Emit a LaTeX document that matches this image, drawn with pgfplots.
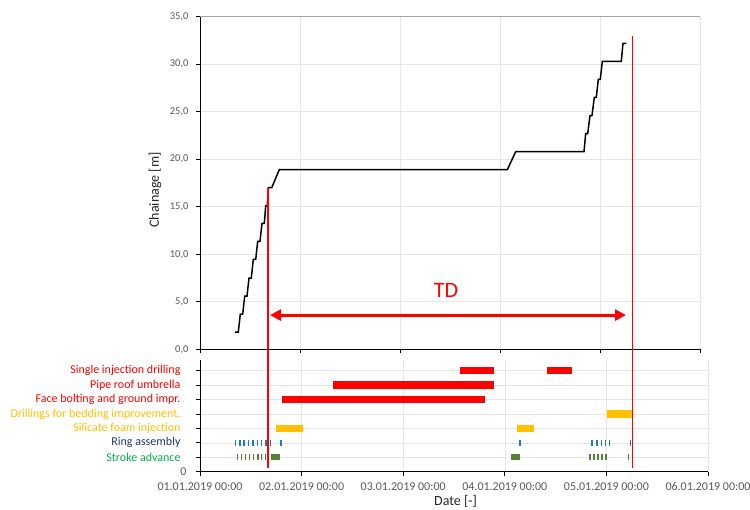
\documentclass[border=0pt]{standalone}
\usepackage{fontspec}
\setmainfont{Carlito}
\usepackage{pgfplots}
\pgfplotsset{compat=1.18}
\usetikzlibrary{arrows.meta}
\definecolor{tickgray}{HTML}{595959}
\definecolor{xlred}{HTML}{FF0000}
\definecolor{xlyellow}{HTML}{FFC000}
\definecolor{xlgreen}{HTML}{548235}
\definecolor{lblgreen}{HTML}{00B050}
\definecolor{lblnavy}{HTML}{203864}
\definecolor{ringblue}{HTML}{1F78C8}
\definecolor{gridc}{HTML}{E6E6E6}
\newcommand{\pad}{\rule{6pt}{0pt}}
\begin{document}
\begin{tikzpicture}[x=1pt,y=1pt]
\path[use as bounding box] (0,0) rectangle (750,510);
% ---------- lower (activities) axis ----------
\begin{axis}[
  at={(200pt,38.3pt)}, anchor=south west, scale only axis,
  width=508pt, height=111.7pt,
  xmin=0, xmax=5, ymin=0, ymax=7.74,
  axis x line*=bottom, axis y line*=left,
  axis line style={-, black, line width=0.8pt},
  tick align=outside, major tick length=4pt,
  tick style={black, line width=0.8pt},
  grid=major, grid style={gridc, line width=0.6pt},
  xtick={0,1,2,3,4,5},
  xticklabels={01.01.2019 00:00,02.01.2019 00:00,03.01.2019 00:00,04.01.2019 00:00,05.01.2019 00:00,06.01.2019 00:00},
  xticklabel style={font=\fontsize{12}{14}\selectfont, text=tickgray, yshift=-3pt},
  ytick={0,1,2,3,4,5,6,7},
  yticklabels={0,
    \textcolor{lblgreen}{Stroke advance}\pad,
    \textcolor{lblnavy}{Ring assembly}\pad,
    \textcolor{xlyellow}{Silicate foam injection}\pad,
    \textcolor{xlyellow}{Drillings for bedding improvement.}\pad,
    \textcolor{xlred}{Face bolting and ground impr.}\pad,
    \textcolor{xlred}{Pipe roof umbrella}\pad,
    \textcolor{xlred}{Single injection drilling}\pad},
  yticklabel style={font=\fontsize{12}{14}\selectfont, text=tickgray, xshift=-6pt},
  xlabel={Date [-]},
  every axis x label/.style={at={(axis description cs:0.503,-0.262)}, anchor=center},
  xlabel style={font=\fontsize{14}{16}\selectfont, text=black!85},
]
% Single injection drilling
\addplot[xlred, line width=7.3pt] coordinates {(2.562,7) (2.890,7)};
\addplot[xlred, line width=7.3pt] coordinates {(3.415,7) (3.665,7)};
% Pipe roof umbrella
\addplot[xlred, line width=7.3pt] coordinates {(1.312,6) (2.890,6)};
% Face bolting
\addplot[xlred, line width=7.3pt] coordinates {(0.810,5) (2.810,5)};
% Drillings for bedding
\addplot[xlyellow, line width=7.3pt] coordinates {(4.003,4) (4.249,4)};
% Silicate foam injection
\addplot[xlyellow, line width=7.3pt] coordinates {(0.745,3) (1.011,3)};
\addplot[xlyellow, line width=7.3pt] coordinates {(3.123,3) (3.287,3)};
% Ring assembly
\addplot[only marks, mark=|, mark size=3pt, color=ringblue, mark options={line width=1.6pt}] coordinates {
 (0.351,2) (0.394,2) (0.436,2) (0.479,2) (0.522,2) (0.564,2) (0.607,2) (0.649,2) (0.692,2)
 (0.797,2) (3.150,2)
 (3.861,2) (3.907,2) (3.950,2) (3.993,2) (4.032,2) (4.239,2)};
% Stroke advance
\addplot[only marks, mark=|, mark size=3pt, color=xlgreen, mark options={line width=1.6pt}] coordinates {
 (0.371,1) (0.410,1) (0.449,1) (0.489,1) (0.528,1) (0.568,1) (0.607,1) (0.646,1)
 (3.839,1) (3.878,1) (3.917,1) (3.957,1) (3.996,1) (4.216,1)};
\addplot[xlgreen, line width=6pt] coordinates {(0.699,1) (0.787,1)};
\addplot[xlgreen, line width=6pt] coordinates {(3.058,1) (3.150,1)};
\end{axis}
% ---------- upper (chainage) axis ----------
\begin{axis}[
  at={(200pt,160.7pt)}, anchor=south west, scale only axis,
  width=500pt, height=332.6pt,
  xmin=0, xmax=5, ymin=0, ymax=35,
  clip=false,
  axis x line*=bottom, axis y line*=left,
  axis line style={-, black, line width=0.8pt},
  tick align=outside, major tick length=4pt,
  tick style={black, line width=0.8pt},
  grid=major, grid style={gridc, line width=0.6pt},
  xtick={0,1,2,3,4,5}, xticklabels={},
  ytick={0,5,10,15,20,25,30,35},
  /pgf/number format/assume math mode=true,
  yticklabel={\pgfmathprintnumber[fixed,fixed zerofill,precision=1,use comma]{\tick}},
  yticklabel style={font=\fontsize{10.5}{12}\selectfont, text=tickgray, xshift=-4pt},
  ylabel={Chainage [m]},
  every axis y label/.style={at={(axis description cs:-0.09,0.479)}, rotate=90, anchor=center},
  ylabel style={font=\fontsize{14}{16}\selectfont, text=black!85},
]
\draw[gray!70, line width=0.8pt] (rel axis cs:0,1) -- (rel axis cs:1,1);
\addplot[black, line width=1.5pt] coordinates {
 (0.350,1.80) (0.383,1.80) (0.403,3.70) (0.427,3.70) (0.447,5.60) (0.470,5.60)
 (0.490,7.50) (0.513,7.50) (0.533,9.45) (0.557,9.45) (0.577,11.35) (0.600,11.35)
 (0.620,13.25) (0.643,13.25) (0.657,15.10) (0.673,15.10) (0.683,17.00) (0.717,17.00)
 (0.793,18.90) (3.073,18.90) (3.157,20.80) (3.840,20.80) (3.857,22.70) (3.877,22.70)
 (3.900,24.60) (3.920,24.60) (3.943,26.50) (3.963,26.50) (3.983,28.40) (4.003,28.40)
 (4.023,30.30) (4.213,30.30) (4.230,32.20) (4.263,32.20)};
% TD markers
\draw[xlred, line width=2pt] (axis cs:0.683,17.0) -- (axis cs:0.683,-12.47);
\draw[xlred, line width=1.3pt] (axis cs:4.327,33.0) -- (axis cs:4.327,-12.47);
\draw[xlred, line width=3pt, {Triangle[length=11pt,width=11pt]}-{Triangle[length=11pt,width=11pt]}] (axis cs:0.70,3.6) -- (axis cs:4.26,3.6);
\node[xlred, font=\fontsize{22}{26}\selectfont] at (axis cs:2.46,6.2) {TD};
\end{axis}
\end{tikzpicture}
\end{document}
